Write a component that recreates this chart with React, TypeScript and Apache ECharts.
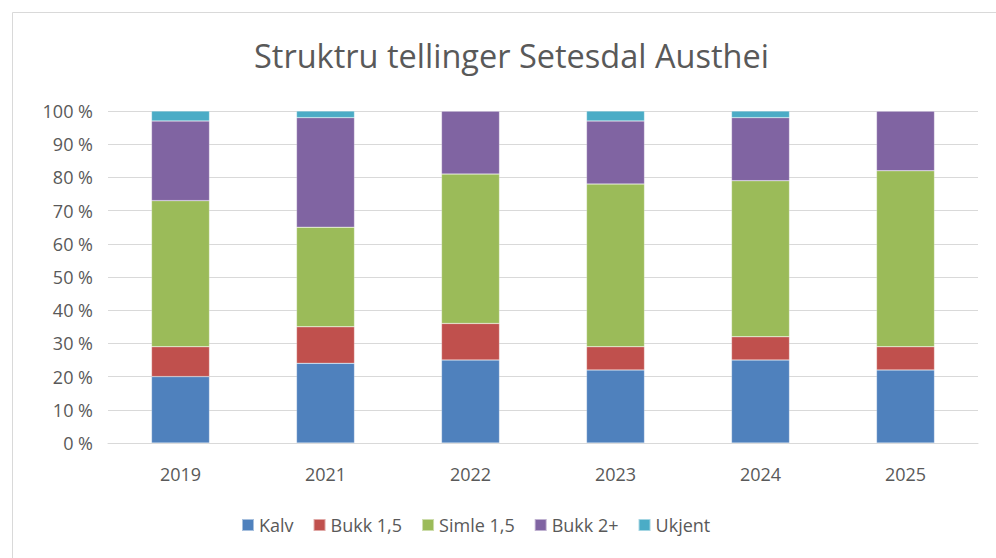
import React, { useEffect, useRef } from "react";
import * as echarts from "echarts";

const categories = ["2019", "2021", "2022", "2023", "2024", "2025"];
const kalv = [20, 24, 25, 22, 25, 22];
const bukk15 = [9, 11, 11, 7, 7, 7];
const simle15 = [44, 30, 45, 49, 47, 53];
const bukk2 = [24, 33, 19, 19, 19, 18];
const ukjent = [3, 2, 0, 3, 2, 0];

const seriesNames = ["Kalv", "Bukk 1,5", "Simle 1,5", "Bukk 2+", "Ukjent"];
const seriesData = [kalv, bukk15, simle15, bukk2, ukjent];
const colors = ["#4F81BD", "#C0504D", "#9BBB59", "#8064A2", "#4BACC6"];

const FONT = "'Open Sans', 'Noto Sans', sans-serif";

export default function App() {
  const ref = useRef<HTMLDivElement>(null);
  useEffect(() => {
    if (!ref.current) return;
    const chart = echarts.init(ref.current, null, { renderer: "svg" });
    chart.setOption({
      animation: false,
      backgroundColor: "#ffffff",
      color: colors,
      title: {
        text: "Struktru tellinger Setesdal Austhei",
        left: 249,
        top: 34,
        textStyle: { fontFamily: FONT, fontSize: 32.5, fontWeight: "normal", color: "#595959" },
      },
      graphic: [
        {
          type: "rect",
          shape: { x: 12.5, y: 12.5, width: 990, height: 560 },
          style: { fill: "none", stroke: "#d9d9d9", lineWidth: 1 },
          silent: true,
        },
      ],
      legend: {
        bottom: 19,
        left: 236,
        itemWidth: 12,
        itemHeight: 12,
        itemGap: 19,
        icon: "rect",
        textStyle: { fontFamily: FONT, fontSize: 18, color: "#595959" },
        data: seriesNames,
      },
      grid: { left: 108, right: 18, top: 111, bottom: 115, containLabel: false },
      xAxis: {
        type: "category",
        data: categories,
        axisLine: { lineStyle: { color: "#d9d9d9", width: 1 } },
        axisTick: { show: false },
        axisLabel: { fontFamily: FONT, fontSize: 18, color: "#595959", margin: 22 },
      },
      yAxis: {
        type: "value",
        min: 0,
        max: 100,
        interval: 10,
        axisLine: { show: false },
        axisTick: { show: false },
        splitLine: { lineStyle: { color: "#d9d9d9", width: 1 } },
        axisLabel: { fontFamily: FONT, fontSize: 18, color: "#595959", formatter: "{value} %", margin: 15 },
      },
      series: seriesNames.map((name, i) => ({
        name,
        type: "bar",
        stack: "total",
        barWidth: "40%",
        data: seriesData[i],
        itemStyle: { color: colors[i], borderColor: "rgba(255,255,255,0.5)", borderWidth: 0.5 },
      })),
    });
    return () => chart.dispose();
  }, []);
  return <div ref={ref} style={{ position: "fixed", left: 0, top: 0, width: 996, height: 558 }} />;
}
